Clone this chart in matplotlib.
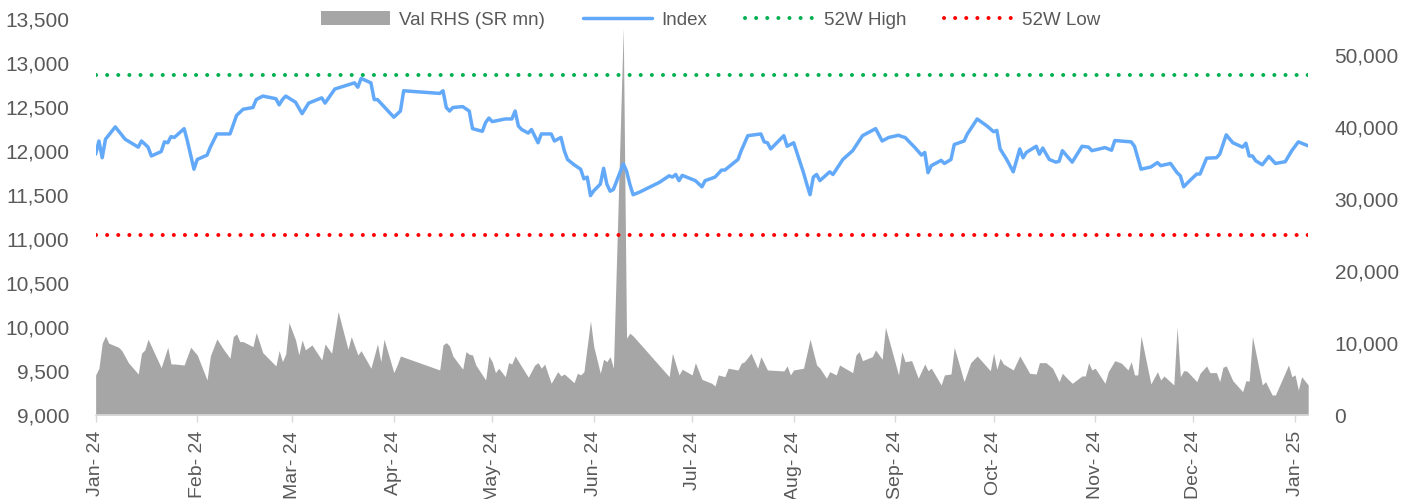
import matplotlib
matplotlib.use('Agg')
import matplotlib.pyplot as plt
import matplotlib.dates as mdates
from matplotlib.ticker import FuncFormatter, MultipleLocator
import pandas as pd

# index level (vertices)
index_dates = [
    '2024-01-01', '2024-01-02', '2024-01-03', '2024-01-04', '2024-01-07', '2024-01-10',
    '2024-01-14', '2024-01-15', '2024-01-17', '2024-01-18', '2024-01-21', '2024-01-22',
    '2024-01-23', '2024-01-24', '2024-01-25', '2024-01-28', '2024-01-29', '2024-01-31',
    '2024-02-01', '2024-02-04', '2024-02-05', '2024-02-07', '2024-02-11', '2024-02-13',
    '2024-02-15', '2024-02-18', '2024-02-19', '2024-02-21', '2024-02-25', '2024-02-26',
    '2024-02-27', '2024-02-28', '2024-03-02', '2024-03-04', '2024-03-06', '2024-03-10',
    '2024-03-11', '2024-03-14', '2024-03-20', '2024-03-21', '2024-03-22', '2024-03-25',
    '2024-03-26', '2024-03-27', '2024-04-01', '2024-04-03', '2024-04-04', '2024-04-15',
    '2024-04-16', '2024-04-17', '2024-04-18', '2024-04-19', '2024-04-22', '2024-04-24',
    '2024-04-25', '2024-04-28', '2024-04-29', '2024-04-30', '2024-05-01', '2024-05-05',
    '2024-05-07', '2024-05-08', '2024-05-09', '2024-05-10', '2024-05-12', '2024-05-13',
    '2024-05-15', '2024-05-16', '2024-05-19', '2024-05-20', '2024-05-22', '2024-05-23',
    '2024-05-24', '2024-05-26', '2024-05-28', '2024-05-29', '2024-05-30', '2024-05-31',
    '2024-06-01', '2024-06-03', '2024-06-04', '2024-06-05', '2024-06-06', '2024-06-07',
    '2024-06-10', '2024-06-11', '2024-06-12', '2024-06-13', '2024-06-15', '2024-06-21',
    '2024-06-24', '2024-06-25', '2024-06-26', '2024-06-27', '2024-06-28', '2024-07-02',
    '2024-07-04', '2024-07-05', '2024-07-08', '2024-07-10', '2024-07-11', '2024-07-15',
    '2024-07-16', '2024-07-18', '2024-07-22', '2024-07-23', '2024-07-24', '2024-07-25',
    '2024-07-29', '2024-07-30', '2024-08-01', '2024-08-04', '2024-08-05', '2024-08-06',
    '2024-08-07', '2024-08-08', '2024-08-09', '2024-08-12', '2024-08-13', '2024-08-16',
    '2024-08-19', '2024-08-22', '2024-08-23', '2024-08-26', '2024-08-28', '2024-08-30',
    '2024-09-02', '2024-09-03', '2024-09-04', '2024-09-07', '2024-09-09', '2024-09-10',
    '2024-09-11', '2024-09-12', '2024-09-15', '2024-09-16', '2024-09-18', '2024-09-19',
    '2024-09-22', '2024-09-23', '2024-09-26', '2024-09-29', '2024-10-01', '2024-10-02',
    '2024-10-03', '2024-10-05', '2024-10-07', '2024-10-09', '2024-10-10', '2024-10-11',
    '2024-10-14', '2024-10-15', '2024-10-16', '2024-10-18', '2024-10-20', '2024-10-21',
    '2024-10-22', '2024-10-25', '2024-10-28', '2024-10-30', '2024-10-31', '2024-11-04',
    '2024-11-06', '2024-11-07', '2024-11-12', '2024-11-13', '2024-11-15', '2024-11-18',
    '2024-11-20', '2024-11-21', '2024-11-24', '2024-11-26', '2024-11-27', '2024-11-28',
    '2024-11-30', '2024-12-02', '2024-12-03', '2024-12-05', '2024-12-08', '2024-12-09',
    '2024-12-11', '2024-12-13', '2024-12-16', '2024-12-17', '2024-12-18', '2024-12-19',
    '2024-12-20', '2024-12-22', '2024-12-24', '2024-12-26', '2024-12-29', '2024-12-31',
    '2025-01-02', '2025-01-05',
]
index_values = [
    11960, 12110, 11920, 12130, 12270, 12130,
    12040, 12110, 12040, 11940, 11990, 12100,
    12090, 12160, 12150, 12250, 12110, 11790,
    11900, 11950, 12040, 12190, 12190, 12400,
    12470, 12490, 12580, 12620, 12590, 12520,
    12580, 12620, 12550, 12420, 12540, 12600,
    12540, 12700, 12770, 12720, 12820, 12770,
    12580, 12580, 12380, 12450, 12680, 12650,
    12680, 12490, 12450, 12490, 12500, 12450,
    12250, 12220, 12320, 12370, 12330, 12360,
    12360, 12450, 12280, 12240, 12200, 12240,
    12090, 12190, 12190, 12110, 12150, 12000,
    11900, 11840, 11790, 11680, 11700, 11490,
    11545, 11620, 11800, 11620, 11540, 11560,
    11850, 11770, 11620, 11500, 11530, 11640,
    11715, 11700, 11730, 11660, 11720, 11660,
    11590, 11660, 11700, 11780, 11780, 11900,
    12000, 12170, 12190, 12100, 12090, 12020,
    12170, 12050, 12090, 11750, 11620, 11500,
    11700, 11730, 11660, 11760, 11730, 11900,
    12000, 12170, 12190, 12250, 12110, 12150,
    12175, 12160, 12150, 12035, 11950, 11980,
    11750, 11830, 11890, 11855, 11900, 12070,
    12110, 12190, 12360, 12280, 12215, 12230,
    12020, 11900, 11760, 12020, 11920, 11980,
    12050, 11960, 12030, 11900, 11870, 11880,
    12000, 11870, 12050, 12040, 12000, 12035,
    12005, 12115, 12100, 12050, 11790, 11815,
    11865, 11830, 11855, 11750, 11715, 11590,
    11665, 11735, 11735, 11915, 11920, 11960,
    12180, 12090, 12040, 12085, 11940, 11940,
    11885, 11840, 11935, 11855, 11875, 12000,
    12100, 12055,
]

# value traded, SR mn (right axis)
value_dates = [
    '2024-01-01', '2024-01-02', '2024-01-03', '2024-01-04', '2024-01-05', '2024-01-08',
    '2024-01-09', '2024-01-11', '2024-01-14', '2024-01-15', '2024-01-16', '2024-01-17',
    '2024-01-21', '2024-01-23', '2024-01-24', '2024-01-25', '2024-01-28', '2024-01-30',
    '2024-02-01', '2024-02-04', '2024-02-05', '2024-02-07', '2024-02-09', '2024-02-11',
    '2024-02-12', '2024-02-13', '2024-02-14', '2024-02-15', '2024-02-18', '2024-02-19',
    '2024-02-21', '2024-02-25', '2024-02-26', '2024-02-27', '2024-02-28', '2024-02-29',
    '2024-03-02', '2024-03-03', '2024-03-04', '2024-03-05', '2024-03-07', '2024-03-10',
    '2024-03-11', '2024-03-13', '2024-03-15', '2024-03-18', '2024-03-19', '2024-03-21',
    '2024-03-22', '2024-03-25', '2024-03-27', '2024-03-28', '2024-03-29', '2024-04-01',
    '2024-04-02', '2024-04-03', '2024-04-15', '2024-04-16', '2024-04-17', '2024-04-18',
    '2024-04-19', '2024-04-22', '2024-04-23', '2024-04-24', '2024-04-25', '2024-04-26',
    '2024-04-29', '2024-04-30', '2024-05-01', '2024-05-02', '2024-05-03', '2024-05-05',
    '2024-05-06', '2024-05-07', '2024-05-08', '2024-05-12', '2024-05-14', '2024-05-15',
    '2024-05-16', '2024-05-17', '2024-05-19', '2024-05-21', '2024-05-22', '2024-05-23',
    '2024-05-26', '2024-05-27', '2024-05-28', '2024-05-29', '2024-05-31', '2024-06-01',
    '2024-06-03', '2024-06-04', '2024-06-05', '2024-06-06', '2024-06-07', '2024-06-10',
    '2024-06-11', '2024-06-12', '2024-06-13', '2024-06-24', '2024-06-25', '2024-06-27',
    '2024-06-28', '2024-07-01', '2024-07-02', '2024-07-04', '2024-07-07', '2024-07-08',
    '2024-07-09', '2024-07-11', '2024-07-12', '2024-07-15', '2024-07-16', '2024-07-17',
    '2024-07-19', '2024-07-21', '2024-07-22', '2024-07-24', '2024-07-29', '2024-07-30',
    '2024-07-31', '2024-08-01', '2024-08-04', '2024-08-06', '2024-08-08', '2024-08-09',
    '2024-08-11', '2024-08-12', '2024-08-14', '2024-08-15', '2024-08-19', '2024-08-20',
    '2024-08-21', '2024-08-22', '2024-08-25', '2024-08-26', '2024-08-28', '2024-08-29',
    '2024-09-02', '2024-09-03', '2024-09-04', '2024-09-06', '2024-09-08', '2024-09-10',
    '2024-09-11', '2024-09-12', '2024-09-15', '2024-09-16', '2024-09-18', '2024-09-19',
    '2024-09-22', '2024-09-24', '2024-09-26', '2024-09-30', '2024-10-01', '2024-10-02',
    '2024-10-03', '2024-10-04', '2024-10-07', '2024-10-09', '2024-10-10', '2024-10-12',
    '2024-10-14', '2024-10-15', '2024-10-17', '2024-10-19', '2024-10-21', '2024-10-22',
    '2024-10-23', '2024-10-25', '2024-10-28', '2024-10-29', '2024-10-30', '2024-10-31',
    '2024-11-01', '2024-11-04', '2024-11-05', '2024-11-07', '2024-11-09', '2024-11-11',
    '2024-11-12', '2024-11-13', '2024-11-14', '2024-11-15', '2024-11-18', '2024-11-20',
    '2024-11-21', '2024-11-22', '2024-11-25', '2024-11-26', '2024-11-27', '2024-11-28',
    '2024-11-29', '2024-12-02', '2024-12-03', '2024-12-05', '2024-12-06', '2024-12-08',
    '2024-12-09', '2024-12-10', '2024-12-11', '2024-12-13', '2024-12-16', '2024-12-17',
    '2024-12-18', '2024-12-19', '2024-12-22', '2024-12-23', '2024-12-25', '2024-12-26',
    '2024-12-30', '2024-12-31', '2025-01-01', '2025-01-02', '2025-01-03', '2025-01-05',
]
value_traded = [
    5560, 6490, 9960, 10970, 9960, 9400,
    8930, 7260, 5690, 8570, 9030, 10510,
    6570, 9400, 7080, 7080, 6940, 9400,
    8330, 4860, 8190, 10560, 9120, 7880,
    10880, 11250, 10180, 10180, 9490, 11430,
    8650, 6810, 8930, 7400, 8470, 12820,
    10420, 8330, 10420, 9030, 9720, 7640,
    9860, 8570, 14350, 9120, 10880, 8330,
    8930, 6490, 9860, 7400, 10510, 5880,
    6940, 8190, 6250, 9720, 10040, 9580,
    8190, 6350, 8790, 8430, 8330, 6940,
    4860, 8190, 7400, 5880, 6490, 5320,
    7260, 7080, 8190, 5240, 6940, 7260,
    6490, 7080, 4400, 6010, 5420, 5690,
    4490, 5790, 5560, 6010, 13060, 9490,
    5790, 7740, 7400, 8100, 6490, 53750,
    10650, 11350, 10970, 5320, 8570, 5560,
    6350, 5560, 7260, 4950, 4400, 4030,
    5560, 5320, 6490, 6250, 7180, 7400,
    8570, 6490, 8100, 6250, 6110, 6810,
    5560, 6250, 6490, 10510, 6940, 6490,
    5100, 6010, 5560, 6940, 5880, 8330,
    8790, 7540, 8100, 9030, 7740, 12180,
    5560, 8790, 7400, 7540, 5100, 7080,
    6150, 6490, 4170, 5560, 5690, 9400,
    4630, 7260, 8190, 6150, 8570, 6350,
    7880, 7080, 6250, 8190, 7400, 5790,
    5690, 7260, 7260, 6490, 4630, 5790,
    5300, 4400, 5420, 5420, 7260, 6250,
    6490, 4400, 6010, 7540, 7200, 6250,
    7400, 5560, 5560, 10970, 4310, 6010,
    4860, 5420, 4170, 12180, 5320, 6150,
    6100, 4630, 5790, 6810, 5880, 5880,
    4630, 6630, 6810, 4760, 3240, 4760,
    4700, 10880, 4170, 4630, 2780, 2780,
    6940, 5320, 5560, 3470, 5320, 4170,
]

high_52w = 12860
low_52w = 11045

plt.rcParams['font.family'] = ['Liberation Sans', 'DejaVu Sans']
grey_text = '#595959'

fig = plt.figure(figsize=(14.19, 4.99), dpi=100)
ax = fig.add_axes([0.0674, 0.1683, 0.8545, 0.7946])
ax2 = ax.twinx()
ax.set_zorder(ax2.get_zorder() + 1)
ax.patch.set_visible(False)

ax2.fill_between(pd.to_datetime(value_dates), value_traded, 0,
                 color='#A6A6A6', lw=0, label='Val RHS (SR mn)')
ax.plot(pd.to_datetime(index_dates), index_values, color='#63A9F9', lw=2.5,
        solid_joinstyle='round', solid_capstyle='round', label='Index')
ax.axhline(high_52w, color='#00B050', lw=2.9, ls=(0, (0.01, 2.75)),
           dash_capstyle='round', label='52W High')
ax.axhline(low_52w, color='#FF0000', lw=2.9, ls=(0, (0.01, 2.75)),
           dash_capstyle='round', label='52W Low')

ax.set_xlim(pd.Timestamp('2024-01-01'), pd.Timestamp('2025-01-05'))
ax.set_ylim(9000, 13500)
ax2.set_ylim(0, 55000)
ax.yaxis.set_major_locator(MultipleLocator(500))
ax2.yaxis.set_major_locator(MultipleLocator(10000))
ax2.set_yticks(range(0, 50001, 10000))
comma = FuncFormatter(lambda v, p: f'{v:,.0f}')
ax.yaxis.set_major_formatter(comma)
ax2.yaxis.set_major_formatter(comma)

ax.xaxis.set_major_locator(mdates.MonthLocator())
ax.xaxis.set_major_formatter(mdates.DateFormatter('%b- %y'))

for s in ax.spines.values():
    s.set_visible(False)
for s in ax2.spines.values():
    s.set_visible(False)
ax.spines['bottom'].set_visible(True)
ax.spines['bottom'].set_color('#D9D9D9')
ax.spines['bottom'].set_linewidth(1.2)

ax.tick_params(axis='y', length=0, pad=19, labelsize=15, labelcolor=grey_text)
ax2.tick_params(axis='y', length=0, pad=19, labelsize=15, labelcolor=grey_text)
ax.tick_params(axis='x', length=5, width=1, color='#D9D9D9', pad=6.5,
               labelsize=14, labelcolor=grey_text, labelrotation=90)

h1, l1 = ax2.get_legend_handles_labels()
h2, l2 = ax.get_legend_handles_labels()
fig.legend(h1 + h2, l1 + l2, loc='center', bbox_to_anchor=(710.5 / 1419, 1 - 20 / 499),
           ncol=4, frameon=False, fontsize=13.5, handlelength=3.7, handletextpad=0.5,
           columnspacing=2.0, labelcolor=grey_text, borderpad=0)

fig.savefig('out.png', dpi=100)
